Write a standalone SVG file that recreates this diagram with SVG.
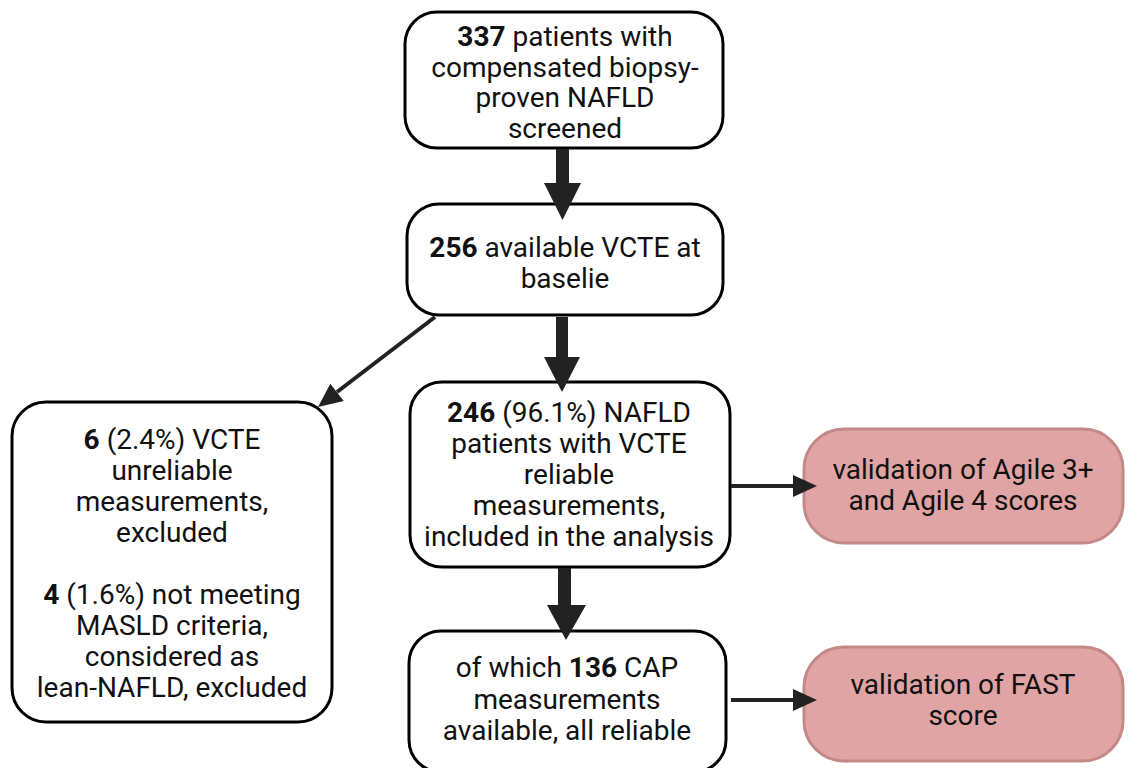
<svg xmlns="http://www.w3.org/2000/svg" width="1129" height="768" viewBox="0 0 1129 768">
<style>
.box{fill:#fff;stroke:#000;stroke-width:3}
.pink{fill:#e0a4a4;stroke:#c48888;stroke-width:3}
text{font-family:Roboto,"Liberation Sans",sans-serif;font-size:28px;fill:#111;text-anchor:middle}
.b{font-weight:bold}
.thin{stroke:#222;stroke-width:4;fill:none}
.fat{fill:#222}
</style>
<g id="n1">
<rect class="box" x="405" y="12" width="318" height="136" rx="32"/>
<text x="565" y="46"><tspan class="b">337</tspan> patients with</text>
<text x="565" y="77">compensated biopsy-</text>
<text x="565" y="107">proven NAFLD</text>
<text x="565" y="138">screened</text>
</g>
<g id="n2">
<rect class="box" x="407" y="204" width="316" height="111" rx="32"/>
<text x="565" y="257"><tspan class="b">256</tspan> available VCTE at</text>
<text x="565" y="288">baselie</text>
</g>
<g id="n3">
<rect class="box" x="410" y="382" width="320" height="185" rx="32"/>
<text x="569" y="422"><tspan class="b">246</tspan> (96.1%) NAFLD</text>
<text x="569" y="453">patients with VCTE</text>
<text x="569" y="484">reliable</text>
<text x="569" y="515">measurements,</text>
<text x="569" y="546">included in the analysis</text>
</g>
<g id="n4">
<rect class="box" x="409" y="631" width="317" height="141" rx="32"/>
<text x="567" y="677">of which <tspan class="b">136</tspan> CAP</text>
<text x="567" y="709">measurements</text>
<text x="567" y="740">available, all reliable</text>
</g>
<g id="n5">
<rect class="box" x="12" y="402" width="320" height="320" rx="34"/>
<text x="172" y="449"><tspan class="b">6</tspan> (2.4%) VCTE</text>
<text x="172" y="480">unreliable</text>
<text x="172" y="511">measurements,</text>
<text x="172" y="542">excluded</text>
<text x="172" y="604"><tspan class="b">4</tspan> (1.6%) not meeting</text>
<text x="172" y="635">MASLD criteria,</text>
<text x="172" y="666">considered as</text>
<text x="172" y="697">lean-NAFLD, excluded</text>
</g>
<g id="n6">
<rect class="pink" x="804" y="429" width="319" height="114" rx="40"/>
<text x="963" y="479">validation of Agile 3+</text>
<text x="963" y="510">and Agile 4 scores</text>
</g>
<g id="n7">
<rect class="pink" x="804" y="647" width="319" height="114" rx="40"/>
<text x="963" y="694">validation of FAST</text>
<text x="963" y="725">score</text>
</g>
<g id="connectors">
<polygon class="fat" points="556,149 569,149 569,183 581,183 562.5,220 544,183 556,183"/>
<polygon class="fat" points="556,317 568,317 568,357 580,357 562,392 544,357 556,357"/>
<polygon class="fat" points="558,568 571,568 571,605 586,605 566,640 547,605 558,605"/>
<line class="thin" x1="435" y1="317" x2="337" y2="392"/>
<polygon class="fat" points="318,407 343.7,401.1 330.3,383.7"/>
<line class="thin" x1="731" y1="486" x2="796" y2="486"/>
<polygon class="fat" points="817,486 793,475 793,497"/>
<line class="thin" x1="731" y1="700" x2="796" y2="700"/>
<polygon class="fat" points="817,700 793,689 793,711"/>
</g>
</svg>
